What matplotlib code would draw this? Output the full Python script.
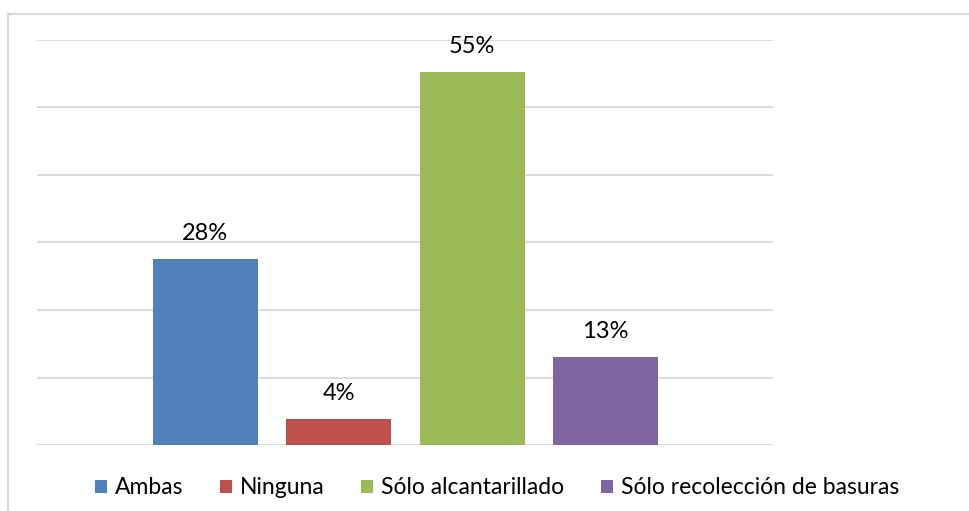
import matplotlib.pyplot as plt
from matplotlib.patches import Rectangle

series = ['Ambas', 'Ninguna', 'Sólo alcantarillado', 'Sólo recolección de basuras']
values = [27.6, 3.9, 55.3, 13.1]
labels = ['28%', '4%', '55%', '13%']
colors = ['#4F81BD', '#C0504D', '#9BBB59', '#8064A2']

plt.rcParams['font.family'] = ['Lato', 'DejaVu Sans']

fig = plt.figure(figsize=(9.69, 5.11), dpi=100)
ax = fig.add_axes([37 / 969, 66 / 511, 736 / 969, 405 / 511])

# marco del gráfico (solo se ve arriba y a la izquierda)
fig.patches.append(Rectangle((8 / 969, -0.1), 1.2, 1 - 14 / 511 + 0.1,
                             transform=fig.transFigure, fill=False,
                             edgecolor='#d9d9d9', linewidth=1.5))

x = range(len(values))
bars = ax.bar(x, values, width=0.7865, color=colors, label=series, zorder=3)
for i, b in enumerate(bars):
    ax.annotate(labels[i], (b.get_x() + b.get_width() / 2, b.get_height()),
                xytext=(0, 13.7), textcoords='offset points',
                ha='center', va='baseline', fontsize=17, color='#000000')

ax.set_xlim(-1.26, 4.253)
ax.set_ylim(0, 60)
ax.set_yticks(range(0, 61, 10))
ax.yaxis.grid(True, color='#d9d9d9', linewidth=1.3, zorder=0)
ax.set_yticklabels([])
ax.tick_params(left=False, bottom=False, labelbottom=False)
for s in ax.spines.values():
    s.set_visible(False)

fig.legend(handles=bars, labels=series, loc='center', ncol=4,
           bbox_to_anchor=(497 / 969, 1 - 488 / 511), frameon=False,
           fontsize=16.5, handlelength=0.52, handleheight=0.52,
           handletextpad=0.35, columnspacing=1.6)

fig.savefig('out.png', dpi=100)
